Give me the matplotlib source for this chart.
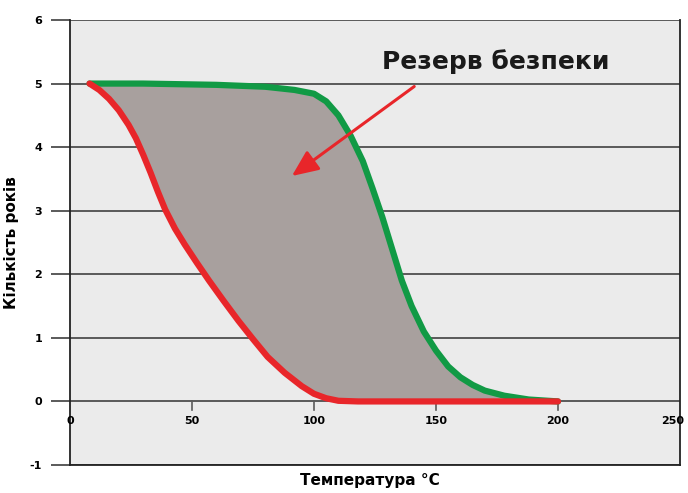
import matplotlib.pyplot as plt

# Service life (years) vs. temperature
temp_green = [8, 30, 60, 80, 92, 100, 105, 110, 115, 120, 124, 128, 132, 136, 140, 145, 150, 155, 160, 165, 170, 178, 188, 200]
years_green = [5.0, 5.0, 4.98, 4.95, 4.9, 4.84, 4.72, 4.5, 4.18, 3.78, 3.35, 2.9, 2.4, 1.9, 1.5, 1.1, 0.8, 0.55, 0.38, 0.26, 0.17, 0.09, 0.03, 0.0]

temp_red = [8, 12, 16, 20, 24, 27, 30, 33, 36, 39, 43, 47, 52, 57, 63, 69, 75, 81, 88, 95, 100, 105, 110, 118, 130, 200]
years_red = [5.0, 4.9, 4.76, 4.58, 4.35, 4.14, 3.88, 3.6, 3.3, 3.02, 2.72, 2.47, 2.18, 1.9, 1.58, 1.27, 0.98, 0.7, 0.45, 0.24, 0.12, 0.05, 0.01, 0.0, 0.0, 0.0]

x_ticks = [0, 50, 100, 150, 200, 250]
y_ticks = [-1, 0, 1, 2, 3, 4, 5, 6]

fig = plt.figure(figsize=(6.88, 4.93), dpi=100)
ax = fig.add_axes([70 / 688, 28 / 493, 610 / 688, 445 / 493])
ax.set_facecolor('#ebebeb')

ax.set_xlim(0, 250)
ax.set_ylim(-1, 6)

for y in y_ticks:
    ax.axhline(y, color='#5a5a5a', linewidth=1.4, zorder=1)

# fill between red (lower) and green (upper) curves
poly_x = temp_green + temp_red[::-1]
poly_y = years_green + years_red[::-1]
ax.fill(poly_x, poly_y, color='#a8a09e', zorder=2, linewidth=0)

ax.plot(temp_green, years_green, color='#119a45', linewidth=4.5, solid_capstyle='round', solid_joinstyle='round', zorder=3)
ax.plot(temp_red, years_red, color='#e8262a', linewidth=4.5, solid_capstyle='round', solid_joinstyle='round', zorder=4)

ax.annotate('', xy=(90, 3.52), xytext=(142, 4.98),
            arrowprops=dict(arrowstyle='-|>,head_length=1.6,head_width=0.7', color='#e8262a', lw=2.2), zorder=5)
ax.text(128, 5.34, 'Резерв безпеки', fontsize=18, fontweight='bold', color='#1a1a1a', va='center', ha='left')

for s in ax.spines.values():
    s.set_color('#222222')
    s.set_linewidth(1.3)
ax.spines['top'].set_visible(False)

ax.set_yticks(y_ticks)
ax.set_yticklabels([str(v) for v in y_ticks], fontsize=8, fontweight='bold')
ax.tick_params(axis='y', length=14, width=1.4, color='#5a5a5a', pad=6)

ax.set_xticks([])
for x in x_ticks:
    if 0 < x < 250:
        ax.plot([x, x], [0, -0.13], color='#5a5a5a', linewidth=1.2, zorder=1)
    xpos = x - 3 if x == 250 else x
    ax.text(xpos, -0.3, str(x), fontsize=8, fontweight='bold', ha='center', va='center', zorder=6)

ax.set_ylabel('Кількість років', fontsize=11, fontweight='bold', labelpad=8)
fig.text(370 / 688, 13 / 493, 'Температура °C', fontsize=11, fontweight='bold', ha='center', va='center')

fig.savefig('out.png', dpi=100, facecolor='white')
